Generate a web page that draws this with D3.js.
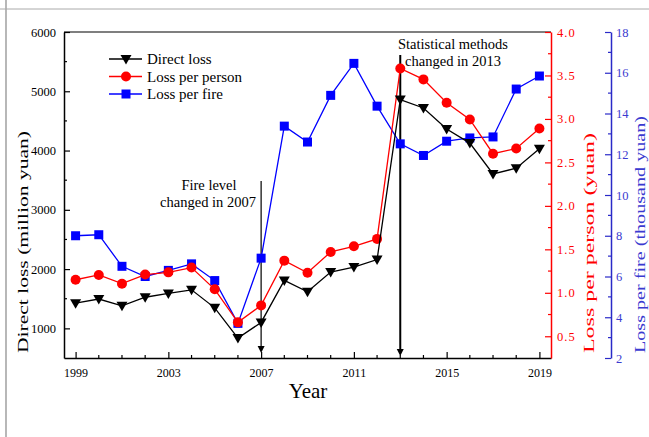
<!DOCTYPE html>
<html><head><meta charset="utf-8">
<script src="https://cdn.jsdelivr.net/npm/d3@7"></script>
<style>body{margin:0;background:#fff}svg{display:block}text{font-family:"Liberation Serif","DejaVu Serif",serif}</style>
</head><body><svg id="c" width="649" height="437"></svg>
<script>
const years = [1999,2000,2001,2002,2003,2004,2005,2006,2007,2008,2009,2010,2011,2012,2013,2014,2015,2016,2017,2018,2019];
const directLoss = [1425,1495,1380,1525,1590,1650,1346,837,1100,1808,1617,1950,2034,2160,4860,4718,4363,4126,3605,3702,4029];
const lossPerPerson = [1.15,1.205,1.105,1.21,1.235,1.29,1.04,0.66,0.855,1.37,1.23,1.47,1.535,1.62,3.58,3.455,3.187,2.994,2.6,2.66,2.89];
const lossPerFire = [8.0,8.05,6.5,6.0,6.3,6.62,5.8,3.7,6.9,13.38,12.6,14.89,16.46,14.36,12.51,11.94,12.64,12.8,12.85,15.2,15.84];
const xTicks = [1999,2003,2007,2011,2015,2019];
const leftTicks = [1000,2000,3000,4000,5000,6000];
const redTicks = [0.5,1.0,1.5,2.0,2.5,3.0,3.5,4.0];
const blueTicks = [2,4,6,8,10,12,14,16,18];

const svg = d3.select("#c");
const L=64, R=551, T=32, B=358, RB=611;
const RED="#ff0000", BLUE="#0000ff", BLUEAX="#2a2ac8";

const x = d3.scaleLinear().domain([1998.5,2019.5]).range([L,R]);
const yL = d3.scaleLinear().domain([500,6000]).range([B,T]);
const yR = d3.scaleLinear().domain([0.25,4]).range([B,T]);
const yB = d3.scaleLinear().domain([2,18]).range([B,T]);

// outer frame lines
svg.append("line").attr("x1",6).attr("x2",6).attr("y1",0).attr("y2",437).attr("stroke","#888").attr("stroke-width",1.2);
svg.append("line").attr("x1",0).attr("x2",649).attr("y1",9).attr("y2",9).attr("stroke","#aaa").attr("stroke-width",1);

// top border
svg.append("line").attr("x1",L).attr("x2",R).attr("y1",T).attr("y2",T).attr("stroke","#000").attr("stroke-width",1.2);

// bottom axis
const xAxis = d3.axisBottom(x).tickValues(xTicks).tickFormat(d3.format("d")).tickSizeInner(-6).tickSizeOuter(0).tickPadding(10);
const gx = svg.append("g").attr("transform",`translate(0,${B})`).call(xAxis);
gx.select(".domain").attr("stroke","#000").attr("stroke-width",1.5);
gx.selectAll(".tick line").attr("stroke","#000").attr("stroke-width",1.2);
gx.selectAll("text").attr("font-size",12).attr("fill","#000");
gx.selectAll(".minor").data(d3.range(2000,2019).filter(v=>!xTicks.includes(v))).enter().append("line")
  .attr("x1",d=>x(d)).attr("x2",d=>x(d)).attr("y1",0).attr("y2",-3).attr("stroke","#000").attr("stroke-width",1.2);

// left axis
const lAxis = d3.axisLeft(yL).tickValues(leftTicks).tickFormat(d3.format("d")).tickSizeInner(-6).tickSizeOuter(0).tickPadding(8);
const gl = svg.append("g").attr("transform",`translate(${L},0)`).call(lAxis);
gl.select(".domain").attr("stroke","#000").attr("stroke-width",1.5);
gl.selectAll(".tick line").attr("stroke","#000").attr("stroke-width",1.2);
gl.selectAll("text").attr("font-size",12.5).attr("fill","#000");
gl.selectAll(".minor").data(d3.range(1500,6000,1000)).enter().append("line")
  .attr("x1",0).attr("x2",3).attr("y1",d=>yL(d)).attr("y2",d=>yL(d)).attr("stroke","#000").attr("stroke-width",1.2);

// red axis
const rAxis = d3.axisRight(yR).tickValues(redTicks).tickFormat(d3.format(".1f")).tickSizeInner(-6).tickSizeOuter(0).tickPadding(6);
const gr = svg.append("g").attr("transform",`translate(${R},0)`).call(rAxis);
gr.select(".domain").attr("stroke",RED).attr("stroke-width",1.5);
gr.selectAll(".tick line").attr("stroke",RED).attr("stroke-width",1.2);
gr.selectAll("text").attr("font-size",12.5).attr("fill",RED).attr("letter-spacing",1);
gr.selectAll(".minor").data(d3.range(0.75,4,0.5)).enter().append("line")
  .attr("x1",0).attr("x2",-3).attr("y1",d=>yR(d)).attr("y2",d=>yR(d)).attr("stroke",RED).attr("stroke-width",1.2);

// blue axis
const bAxis = d3.axisRight(yB).tickValues(blueTicks).tickFormat(d3.format("d")).tickSizeInner(-6).tickSizeOuter(0).tickPadding(5);
const gb = svg.append("g").attr("transform",`translate(${RB},0)`).call(bAxis);
gb.select(".domain").attr("stroke",BLUEAX).attr("stroke-width",1.5);
gb.selectAll(".tick line").attr("stroke",BLUEAX).attr("stroke-width",1.2);
gb.selectAll("text").attr("font-size",12.5).attr("fill","#3a3ad0");
gb.selectAll(".minor").data(d3.range(3,18,2)).enter().append("line")
  .attr("x1",0).attr("x2",-3).attr("y1",d=>yB(d)).attr("y2",d=>yB(d)).attr("stroke",BLUEAX).attr("stroke-width",1.2);

// axis titles
svg.append("text").attr("transform","translate(28,353) rotate(-90)").attr("text-anchor","start").attr("font-size",15)
  .attr("textLength",222).attr("lengthAdjust","spacingAndGlyphs").attr("fill","#000").text("Direct loss (million yuan)");
svg.append("text").attr("transform","translate(594,353) rotate(-90)").attr("text-anchor","start").attr("font-size",15)
  .attr("textLength",220).attr("lengthAdjust","spacingAndGlyphs").attr("fill",RED).text("Loss per person (yuan)");
svg.append("text").attr("transform","translate(645,353) rotate(-90)").attr("text-anchor","start").attr("font-size",15)
  .attr("textLength",237).attr("lengthAdjust","spacingAndGlyphs").attr("fill","#3a3ad0").text("Loss per fire (thousand yuan)");
svg.append("text").attr("x",308).attr("y",398).attr("text-anchor","middle").attr("font-size",21).attr("fill","#000").text("Year");

// annotation arrows
function arrow(xv, y1, y2, w){
  svg.append("line").attr("x1",x(xv)).attr("x2",x(xv)).attr("y1",y1).attr("y2",y2-4).attr("stroke","#000").attr("stroke-width",w);
  svg.append("path").attr("d",`M${x(xv)-3.5},${y2-7}L${x(xv)+3.5},${y2-7}L${x(xv)},${y2}Z`).attr("fill","#000");
}
arrow(2007,181,353,1.2);
arrow(2013,55,356,2);
svg.append("text").attr("x",209).attr("y",190).attr("text-anchor","middle").attr("font-size",14.5).text("Fire level");
svg.append("text").attr("x",208).attr("y",207).attr("text-anchor","middle").attr("font-size",14.5).text("changed in 2007");
svg.append("text").attr("x",453).attr("y",49).attr("text-anchor","middle").attr("font-size",14.5).text("Statistical methods");
svg.append("text").attr("x",453).attr("y",66).attr("text-anchor","middle").attr("font-size",14.5).text("changed in 2013");

// series
const series = [
  {vals: lossPerFire, y: yB, color: BLUE, shape: "square"},
  {vals: lossPerPerson, y: yR, color: RED, shape: "circle"},
  {vals: directLoss, y: yL, color: "#000", shape: "tri"}
];
function marker(g, shape, cx, cy, color){
  if(shape==="square") g.append("rect").attr("x",cx-4.5).attr("y",cy-4.5).attr("width",9).attr("height",9).attr("fill",color);
  else if(shape==="circle") g.append("circle").attr("cx",cx).attr("cy",cy).attr("r",5).attr("fill",color);
  else g.append("path").attr("d",`M${cx-5.5},${cy-4}L${cx+5.5},${cy-4}L${cx},${cy+5.5}Z`).attr("fill",color);
}
series.forEach(s=>{
  const line = d3.line().x((d,i)=>x(years[i])).y(d=>s.y(d));
  svg.append("path").datum(s.vals).attr("d",line).attr("fill","none").attr("stroke",s.color).attr("stroke-width",1.3);
  const g = svg.append("g");
  s.vals.forEach((v,i)=>marker(g,s.shape,x(years[i]),s.y(v),s.color));
});

// legend
const legend = [["Direct loss","#000","tri"],["Loss per person",RED,"circle"],["Loss per fire",BLUE,"square"]];
legend.forEach((d,i)=>{
  const yy = 59 + i*17.5;
  svg.append("line").attr("x1",109).attr("x2",142).attr("y1",yy).attr("y2",yy).attr("stroke",d[1]).attr("stroke-width",1.3);
  marker(svg,d[2],126,yy,d[1]);
  svg.append("text").attr("x",147).attr("y",yy+5).attr("font-size",15).attr("fill","#000").text(d[0]);
});
</script></body></html>
